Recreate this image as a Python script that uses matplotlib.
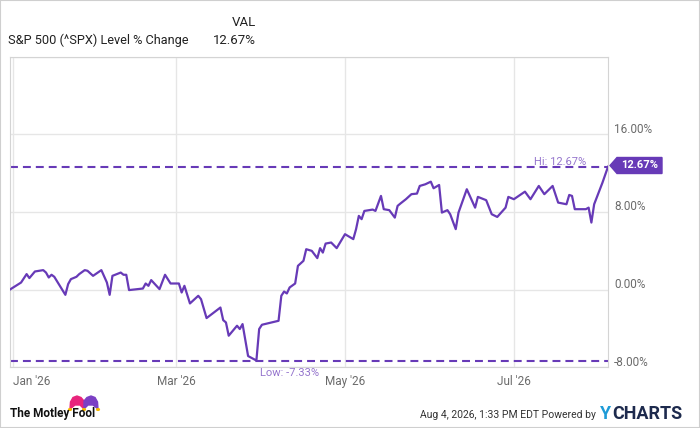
import matplotlib.pyplot as plt
import matplotlib.patches as patches
import matplotlib.transforms as mtransforms
import pandas as pd

plt.rcParams['font.family'] = ['Roboto', 'DejaVu Sans']

# days after Jan 1 2026 and % change of the S&P 500 level
day_offsets = [-1, 3, 5, 6, 8, 11, 12, 13, 14, 15, 19, 20, 21, 23, 24, 26, 27, 29,
               32, 34, 35, 36, 39, 40, 41, 42, 47, 48, 49, 50, 53, 55, 57, 60, 61,
               62, 64, 67, 68, 70, 75, 76, 77, 78, 81, 82, 83, 85, 88, 89, 90, 96,
               97, 98, 99, 100, 102, 103, 105, 106, 108, 110, 111, 112, 113, 115,
               117, 120, 123, 124, 125, 126, 127, 130, 131, 133, 134, 136, 138, 139,
               140, 142, 144, 146, 147, 149, 151, 152, 154, 155, 157, 158, 160, 161,
               164, 167, 168, 171, 173, 175, 178, 179, 181, 185, 187, 190, 192, 195,
               197, 200, 201, 202, 203, 207, 208, 209, 210, 213, 215]
pct_change = [0.00, 0.72, 1.59, 1.18, 1.86, 2.00, 1.75, 1.24, 1.52, 1.31, -0.55, 0.56,
              1.07, 1.31, 1.59, 2.00, 1.93, 1.41, 2.00, 0.72, -0.55, 1.41, 1.75, 1.52,
              1.52, -0.06, 0.10, 0.62, 0.38, 0.97, 0.04, 1.52, 0.62, 0.62, -0.31, 0.38,
              -1.44, -0.65, -1.00, -2.95, -1.86, -3.16, -3.40, -4.77, -3.74, -4.08,
              -3.57, -6.87, -7.33, -4.08, -3.64, -3.23, -0.65, -0.21, -0.41, 0.21, 0.62,
              2.44, 2.96, 4.16, 3.99, 3.24, 4.27, 3.81, 4.74, 4.85, 4.27, 5.71, 5.20,
              6.23, 7.60, 7.26, 8.11, 8.25, 8.11, 9.66, 8.29, 8.19, 7.42, 8.63, 8.87,
              9.32, 9.84, 9.90, 10.69, 10.86, 11.13, 10.45, 10.79, 7.94, 8.19, 7.77,
              6.23, 7.94, 10.35, 8.45, 9.56, 9.22, 7.77, 7.49, 8.45, 9.56, 9.32, 10.10,
              9.32, 10.69, 9.84, 10.69, 8.97, 8.80, 9.76, 9.66, 8.29, 8.29, 8.45, 6.91,
              8.80, 11.03, 12.67]

y_ticks = [-8, 0, 8, 16]
month_ticks = ['2026-01-01', '2026-03-01', '2026-05-01', '2026-07-01']
month_labels = ["Jan '26", "Mar '26", "May '26", "Jul '26"]
hi_val = 12.67
low_val = -7.33
last_val = 12.67

purple = '#673ab7'
light_purple = '#9575cd'

dates = pd.Timestamp('2026-01-01') + pd.to_timedelta(day_offsets, unit='D')

W, H = 700, 428
fig = plt.figure(figsize=(7, 4.28), dpi=100)


def fx(x):
    return x / W


def fy(y):
    return 1 - y / H


ax = fig.add_axes([fx(10), fy(367), 598 / W, 310 / H])
ax.plot(dates, pct_change, color=purple, lw=1.6, solid_joinstyle='round', zorder=3)
ax.set_xlim(dates[0], dates[-1])
ax.set_ylim(-8, 24)

ax.set_yticks(y_ticks + [24])
ax.set_xticks(pd.to_datetime(month_ticks))
ax.set_xticklabels(month_labels)
ax.tick_params(length=0, labelleft=False, labelsize=8.5, labelcolor='#6b6b6b', pad=6)
ax.get_xticklabels()[0].set_ha('left')
ax.grid(color='#e6e6e6', lw=1)
for s in ax.spines.values():
    s.set_color('#d4d4d4')

# right side value labels, a bit above their gridline
trans = mtransforms.blended_transform_factory(ax.transAxes, ax.transData)
off = mtransforms.ScaledTranslation(6 / 100, 5 / 100, fig.dpi_scale_trans)
for v in y_ticks:
    ax.text(1, v, f'{v:.2f}%', transform=trans + off, ha='left', va='center',
            fontsize=8.5, color='#6b6b6b', clip_on=False)

# hi / low lines
for v in [hi_val, low_val]:
    ax.axhline(v, color=purple, lw=1.5, dashes=(3.8, 2.4), zorder=2)
ax.text(0.92, hi_val, f'Hi: {hi_val:.2f}%', transform=trans, ha='center', va='bottom',
        fontsize=8, color=light_purple)
ax.text(0.468, low_val, f'Low: {low_val:.2f}%',
        transform=trans + mtransforms.ScaledTranslation(0, -7 / 100, fig.dpi_scale_trans),
        ha='center', va='top', fontsize=8, color=light_purple, clip_on=False)

# last value tag
tag_y = 165.5
tag = patches.Polygon([(fx(610), fy(tag_y)), (fx(617), fy(tag_y - 8)), (fx(662), fy(tag_y - 8)),
                       (fx(662), fy(tag_y + 8)), (fx(617), fy(tag_y + 8))],
                      closed=True, transform=fig.transFigure, color=purple)
fig.add_artist(tag)
fig.text(fx(640), fy(tag_y), f'{last_val:.2f}%', ha='center', va='center', fontsize=8,
         color='white', fontweight='bold')

# header
fig.text(fx(256), fy(22), 'VAL', ha='right', va='center', fontsize=9.5, color='#222222')
fig.text(fx(256), fy(40), f'{last_val:.2f}%', ha='right', va='center', fontsize=9.5,
         color='#222222')
fig.text(fx(8), fy(40), 'S&P 500 (^SPX) Level % Change', ha='left', va='center',
         fontsize=9.2, color='#222222')

# footer: logo
fig.text(fx(10), fy(414), 'The Motley Fool', ha='left', va='center', fontsize=8.5,
         fontweight='bold', color='#111111')
fig.add_artist(patches.Polygon([(fx(70), fy(409)), (fx(70.5), fy(402)), (fx(73), fy(397.5)),
                                (fx(77), fy(396)), (fx(81), fy(397.5)), (fx(84), fy(401)),
                                (fx(84), fy(409)), (fx(80), fy(405)), (fx(75), fy(405))],
                               transform=fig.transFigure, color='#e8247c'))
fig.add_artist(patches.Polygon([(fx(84), fy(409)), (fx(84), fy(401)), (fx(87), fy(397.5)),
                                (fx(91), fy(396)), (fx(95), fy(397.5)), (fx(97.5), fy(402)),
                                (fx(98), fy(409)), (fx(93), fy(405)), (fx(88), fy(405))],
                               transform=fig.transFigure, color='#7b3fc4'))
for hx in [70, 84, 98]:
    fig.add_artist(patches.Circle((fx(hx), fy(409.5)), 1.4 / W, transform=fig.transFigure,
                                  color='#f5b800'))

fig.text(fx(596), fy(415), 'Aug 4, 2026, 1:33 PM EDT Powered by', ha='right', va='center',
         fontsize=7.5, color='#333333')
y_txt = fig.text(fx(600), fy(414), 'Y', ha='left', va='center', fontsize=13,
                 fontweight='bold', color='#1e9bd7')
r = fig.canvas.get_renderer()
bb = y_txt.get_window_extent(r)
fig.text(bb.x1 / W + 1 / W, fy(414), 'CHARTS', ha='left', va='center', fontsize=13,
         fontweight='bold', color='#1d2a4d')

fig.add_artist(patches.Rectangle((0, 0), 1, 1, transform=fig.transFigure, fill=False,
                                 ec='#cfcfcf', lw=1.5))

fig.savefig('out.png', dpi=100)
